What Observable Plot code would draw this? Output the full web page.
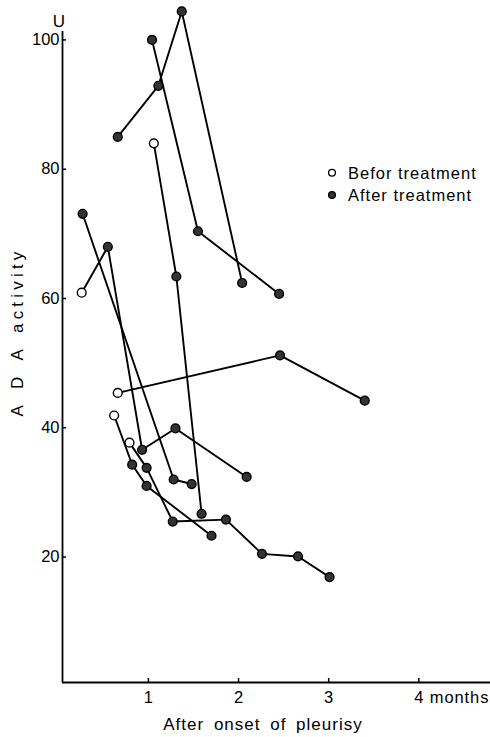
<!DOCTYPE html>
<html>
<head>
<meta charset="utf-8">
<script src="https://cdn.jsdelivr.net/npm/d3@7"></script>
<script src="https://cdn.jsdelivr.net/npm/@observablehq/plot@0.6"></script>
<style>
  html, body { margin: 0; padding: 0; background: #fff; }
  #chart { position: relative; width: 490px; height: 737px; }
</style>
</head>
<body>
<div id="chart"></div>
<script>
// ---- data ----
const patient = [1,1,1,1, 2,2,2, 3,3,3, 4,4,4, 5,5,5,5,5, 6,6,6, 7,7,7,7, 8,8,8,8,8,8,8];
const month   = [0.66,1.11,1.37,2.04, 1.04,1.55,2.45, 1.06,1.31,1.59, 0.27,1.28,1.48,
                 0.26,0.55,0.93,1.30,2.09, 0.66,2.46,3.40, 0.62,0.82,0.98,1.70,
                 0.79,0.98,1.27,1.86,2.26,2.66,3.01];
const ada     = [85.0,92.9,104.4,62.4, 100.0,70.4,60.7, 84.0,63.4,26.7, 73.1,32.0,31.3,
                 60.9,68.0,36.6,39.9,32.4, 45.4,51.2,44.2, 41.9,34.3,31.0,23.3,
                 37.7,33.8,25.5,25.8,20.5,20.1,16.9];
// "B" = before treatment (open), "A" = after treatment (filled)
const phase   = ["A","A","A","A", "A","A","A", "B","A","A", "A","A","A",
                 "B","A","A","A","A", "B","A","A", "B","A","A","A",
                 "B","A","A","A","A","A","A"];
const xTicks = [1, 2, 3, 4];
const xTickLabels = ["1", "2", "3", "4 months"];
const yTicks = [20, 40, 60, 80, 100];
const xDomain = [0.047, 4.795];
const yDomain = [0.6, 101.3];
const legendLabels = ["Befor treatment", "After treatment"];
const legendPhases = ["B", "A"];

const rows = month.map((m, i) => ({patient: patient[i], month: m, ada: ada[i], phase: phase[i]}));

const W = 490, H = 737;
const mL = 62, mR = 0, mT = 31, mB = 55;
const frameW = W - mL - mR, frameH = H - mT - mB;
const font = "'Liberation Sans', Arial, sans-serif";

const plot = Plot.plot({
  width: W,
  height: H,
  marginLeft: mL,
  marginRight: mR,
  marginTop: mT,
  marginBottom: mB,
  style: {fontFamily: font, fontSize: "16px", color: "#000", background: "#fff"},
  x: {domain: xDomain, axis: null},
  y: {domain: yDomain, axis: null},
  marks: [
    // axis lines
    Plot.ruleX([xDomain[0]], {stroke: "#000", strokeWidth: 1.8}),
    Plot.ruleY([yDomain[0]], {stroke: "#000", strokeWidth: 1.8}),
    // inward ticks
    Plot.tickX(xTicks, {x: d => d, stroke: "#000", strokeWidth: 1.5, insetTop: frameH - 4}),
    Plot.tickY(yTicks, {y: d => d, stroke: "#000", strokeWidth: 1.5, insetRight: frameW - 4}),
    // tick labels
    Plot.axisY(yTicks, {tickSize: 0, tickPadding: 3, fontSize: 16.5, label: null, tickFormat: d => String(d)}),
    Plot.text(xTicks, {
      x: d => d, y: yDomain[0], text: (d, i) => xTickLabels[i],
      textAnchor: "start", dx: -4.6, dy: 15, fontSize: 16.5, fill: "#000",
      lineAnchor: "middle", className: "xticklabels"
    }),
    // series lines
    Plot.line(rows, {x: "month", y: "ada", z: "patient", stroke: "#000", strokeWidth: 1.9, curve: "linear"}),
    // points
    Plot.dot(rows, {
      x: "month", y: "ada", r: 4.4,
      fill: d => d.phase === "B" ? "#fff" : "#333",
      stroke: "#000", strokeWidth: 1.4
    })
  ]
});

const chart = document.getElementById("chart");
chart.appendChild(plot);

const svg = d3.select(plot);
svg.selectAll(".xticklabels").attr("letter-spacing", 0.9);

// titles and legend as real SVG text
const g = svg.append("g").attr("font-family", font).attr("fill", "#000");

// unit label
g.append("text").attr("x", 59).attr("y", 27).attr("text-anchor", "middle")
  .attr("font-size", 17).text("U");

// y axis title
g.append("text")
  .attr("transform", "translate(23,332) rotate(-90)")
  .attr("text-anchor", "middle")
  .attr("font-size", 17)
  .attr("letter-spacing", 4.2)
  .attr("word-spacing", 4)
  .text("A D A activity");

// x axis title
g.append("text")
  .attr("x", 263).attr("y", 730)
  .attr("text-anchor", "middle")
  .attr("font-size", 17)
  .attr("letter-spacing", 1)
  .attr("word-spacing", 4)
  .text("After onset of pleurisy");

// legend
legendLabels.forEach((lab, i) => {
  const cy = 172.7 + i * 22.3;
  g.append("circle").attr("cx", 332).attr("cy", cy).attr("r", 3.4)
    .attr("fill", legendPhases[i] === "B" ? "#fff" : "#333")
    .attr("stroke", "#000").attr("stroke-width", 1.3);
  g.append("text").attr("x", 348).attr("y", cy + 5.8)
    .attr("text-anchor", "start")
    .attr("font-size", 16.5).attr("letter-spacing", 1)
    .text(lab);
});
</script>
</body>
</html>
